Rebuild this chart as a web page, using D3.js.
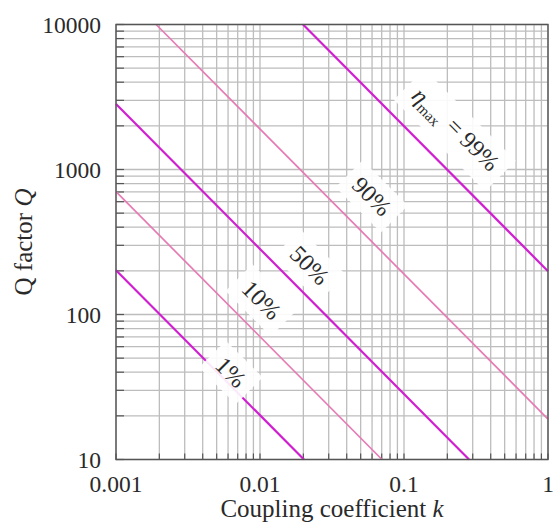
<!DOCTYPE html>
<html>
<head>
<meta charset="utf-8">
<title>Q factor vs coupling coefficient</title>
<style>
  body { margin: 0; background: #fff; }
  svg { display: block; }
  text { font-family: "Liberation Serif", "DejaVu Serif", serif; fill: #2a2a2a; }
</style>
</head>
<body>
<svg width="553" height="525"></svg>
<script src="https://d3js.org/d3.v7.min.js"></script>
<script>
// axis ranges and tick labels
var kDomain = [0.001, 1],
    qDomain = [10, 10000];
var kTicks = [0.001, 0.01, 0.1, 1],
    kTickLabels = ["0.001", "0.01", "0.1", "1"];
var qTicks = [10, 100, 1000, 10000],
    qTickLabels = ["10", "100", "1000", "10000"];

// efficiency curves: end points (k, Q)
var curveNames = ["1%", "10%", "50%", "90%", "99%"];
var curveStart = [[0.001, 202], [0.001, 703], [0.001, 2830], [0.0019, 10000], [0.0199, 10000]];
var curveEnd = [[0.0202, 10], [0.0703, 10], [0.283, 10], [1, 19], [1, 199]];
var curveKind = ["strong", "light", "strong", "light", "strong"];

// label anchors (k, Q)
var labelPos = [[0.0063, 40], [0.0103, 126], [0.0222, 219], [0.060, 655], [0.226, 1871]];

var svg = d3.select("svg"),
    margin = {top: 24.5, right: 5, bottom: 65.5, left: 116},
    width = +svg.attr("width") - margin.left - margin.right,
    height = +svg.attr("height") - margin.top - margin.bottom;

var x = d3.scaleLog().domain(kDomain).range([0, width]),
    y = d3.scaleLog().domain(qDomain).range([height, 0]);

var g = svg.append("g")
  .attr("transform", "translate(" + margin.left + "," + margin.top + ")");

// minor + major values for grid
function logValues(d) {
  var out = [];
  for (var e = Math.log10(d[0]); e < Math.log10(d[1]); e++) {
    for (var m = 1; m < 10; m++) out.push(+(m * Math.pow(10, e)).toPrecision(3));
  }
  out.push(d[1]);
  return out;
}
var kGrid = logValues(kDomain),
    qGrid = logValues(qDomain);

g.append("g").selectAll("line")
  .data(kGrid).enter().append("line")
  .attr("x1", function(d) { return x(d); })
  .attr("x2", function(d) { return x(d); })
  .attr("y1", 0).attr("y2", height)
  .attr("stroke", "#bdbdbd").attr("stroke-width", 1.3);

g.append("g").selectAll("line")
  .data(qGrid).enter().append("line")
  .attr("y1", function(d) { return y(d); })
  .attr("y2", function(d) { return y(d); })
  .attr("x1", 0).attr("x2", width)
  .attr("stroke", "#bdbdbd").attr("stroke-width", 1.3);

// inner tick marks
g.append("g").selectAll("line")
  .data(qGrid).enter().append("line")
  .attr("y1", function(d) { return y(d); })
  .attr("y2", function(d) { return y(d); })
  .attr("x1", 0).attr("x2", 8)
  .attr("stroke", "#555").attr("stroke-width", 1.2);

g.append("g").selectAll("line")
  .data(kGrid).enter().append("line")
  .attr("x1", function(d) { return x(d); })
  .attr("x2", function(d) { return x(d); })
  .attr("y1", height).attr("y2", height - 6)
  .attr("stroke", "#555").attr("stroke-width", 1.2);

// curves
g.append("g").selectAll("line")
  .data(curveNames).enter().append("line")
  .attr("x1", function(d, i) { return x(curveStart[i][0]); })
  .attr("y1", function(d, i) { return y(curveStart[i][1]); })
  .attr("x2", function(d, i) { return x(curveEnd[i][0]); })
  .attr("y2", function(d, i) { return y(curveEnd[i][1]); })
  .attr("stroke", function(d, i) { return curveKind[i] == "strong" ? "#d01fd0" : "#e67bb4"; })
  .attr("stroke-width", function(d, i) { return curveKind[i] == "strong" ? 2.2 : 1.7; });

// frame
g.append("rect")
  .attr("width", width).attr("height", height)
  .attr("fill", "none").attr("stroke", "#555").attr("stroke-width", 1.4);

// curve labels
var lab = g.append("g").selectAll("g")
  .data(curveNames).enter().append("g")
  .attr("transform", function(d, i) {
    return "translate(" + x(labelPos[i][0]) + "," + y(labelPos[i][1]) + ") rotate(45)";
  });

lab.append("text")
  .attr("text-anchor", "middle")
  .attr("dy", "0.35em")
  .style("font-size", "24px")
  .each(function(d, i) {
    var t = d3.select(this);
    if (i == curveNames.length - 1) {
      t.append("tspan").style("font-style", "italic").text("\u03b7");
      t.append("tspan").attr("dy", "0.3em").style("font-size", "15px").text("max");
      t.append("tspan").attr("dy", "-0.3em").attr("dx", "8").text("= " + d);
    } else {
      t.text(d);
    }
  });

lab.insert("rect", "text")
  .each(function() {
    var b = this.parentNode.querySelector("text").getBBox();
    d3.select(this)
      .attr("x", b.x - 10).attr("y", b.y - 6)
      .attr("width", b.width + 20).attr("height", b.height + 12);
  })
  .attr("fill", "#fff").attr("fill-opacity", 0.9);

// tick labels
g.append("g").selectAll("text")
  .data(qTicks).enter().append("text")
  .attr("x", -15)
  .attr("y", function(d) { return y(d); })
  .attr("dy", "0.35em")
  .attr("text-anchor", "end")
  .style("font-size", "23.5px")
  .text(function(d, i) { return qTickLabels[i]; });

g.append("g").selectAll("text")
  .data(kTicks).enter().append("text")
  .attr("x", function(d) { return x(d); })
  .attr("y", height + 32)
  .attr("text-anchor", "middle")
  .style("font-size", "23.5px")
  .text(function(d, i) { return kTickLabels[i]; });

// axis titles
var xt = svg.append("text")
  .attr("x", margin.left + width / 2)
  .attr("y", 517)
  .attr("text-anchor", "middle")
  .style("font-size", "25px");
xt.append("tspan").text("Coupling coefficient ");
xt.append("tspan").style("font-style", "italic").text("k");

var yt = svg.append("text")
  .attr("transform", "translate(32," + (margin.top + height / 2) + ") rotate(-90)")
  .attr("text-anchor", "middle")
  .style("font-size", "25px");
yt.append("tspan").text("Q factor ");
yt.append("tspan").style("font-style", "italic").text("Q");
</script>
</body>
</html>
